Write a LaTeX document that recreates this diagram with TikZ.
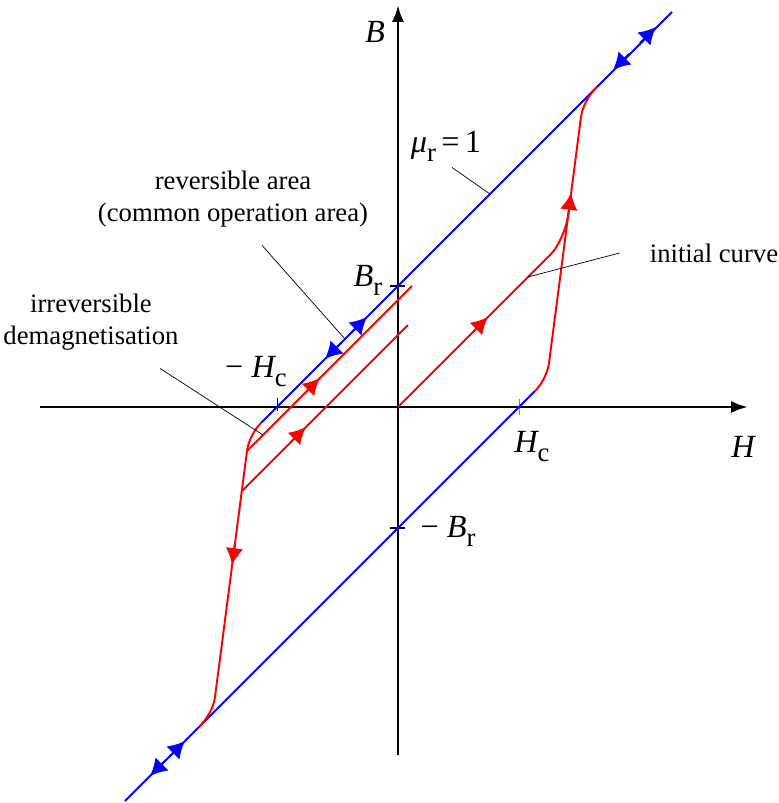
\documentclass[tikz,border=0pt]{standalone}
\usepackage{fontspec}
\setmainfont{Liberation Serif}
\usepackage{tikz}
\usetikzlibrary{
    arrows.meta,
    calc
}
\tikzstyle{axis} = [
    line width=2pt,
    -{Latex[length=0.42cm, width=0.3cm]}
]
\tikzstyle{recoil} = [
    blue,
    line width=1.4pt
]
\tikzstyle{hyst} = [
    red,
    line width=1.4pt
]
\tikzstyle{blueflow} = [
    blue,
    line width=1.4pt,
    -{Latex[length=0.42cm, width=0.46cm]}
]
\tikzstyle{redflow} = [
    red,
    line width=1.4pt,
    -{Latex[length=0.42cm, width=0.44cm]}
]
\tikzstyle{leader} = [
    black,
    line width=0.5pt
]
\tikzstyle{tick} = [
    black,
    line width=1.4pt
]
\tikzstyle{txt} = [
    font=\fontsize{19}{22.7}\selectfont,
    align=center,
    inner sep=0pt
]
\tikzstyle{sym} = [
    font=\fontsize{23}{27}\selectfont,
    inner sep=0pt
]
\newcommand{\sub}[1]{\raisebox{-0.28em}{\fontsize{19}{19}\selectfont\upshape #1}}

\begin{document}
\begin{tikzpicture}[x=0.025cm, y=0.025cm]
    \useasboundingbox (-398,-396) rectangle (380,407);

    % Axes and ticks
    \draw[axis] (-358,0) -- (350,0);
    \draw[axis] (0,-348) -- (0,402);
    \draw[tick] (-8,121) -- (7,121);
    \draw[tick] (-8,-121) -- (7,-121);
    \draw[gray, line width=0.7pt] (121,-8) -- (121,8);
    \draw[black, line width=0.7pt] (-121,-4) -- (-121,9);

    % mu_r = 1 lines
    \draw[recoil] (-137,-16) -- (274,395);
    \draw[recoil] (-273,-394) -- (137,16);

    % Hysteresis loop
    \draw[hyst] (199,320) .. controls (192,313) and (184.6,302) .. (183,290)
        -- (151,44) .. controls (149.7,34) and (144,23) .. (137,16);
    \draw[hyst] (-137,-16) .. controls (-144,-23) and (-149.7,-34) .. (-151,-44)
        -- (-183,-290) .. controls (-184.6,-302) and (-192,-313) .. (-199,-320);
    \draw[hyst] (0,0) -- (153,153) .. controls (161,161) and (168.6,180) .. (170.2,192);
    \draw[hyst] (-151,-44) -- (14,121);
    \draw[hyst] (-156,-84) -- (10,82);

    % Direction arrows
    \draw[blueflow] (231,353) -- (215,337);
    \draw[blueflow] (242,364) -- (258,380);
    \draw[blueflow] (-47,74) -- (-31,90);
    \draw[blueflow] (-57,64) -- (-73,48);
    \draw[blueflow] (-229,-350) -- (-213,-334);
    \draw[blueflow] (-232,-353) -- (-248,-369);
    \draw[redflow] (170.2,192) -- (173.1,214);
    \draw[redflow] (-162.9,-136) -- (-165.8,-158);
    \draw[redflow] (74,74) -- (90,90);
    \draw[redflow] (-94,13) -- (-78,29);
    \draw[redflow] (-108,-36) -- (-92,-20);

    % Labels
    \node[sym] (blabel) at (-23,375) {\itshape B};
    \node[sym] (hlabel) at (345,-40) {\itshape H};
    \node[sym] (br) at (-30,127) {\itshape B\sub{r}};
    \node[sym] (mbr) at (50,-124) {− \itshape B\sub{r}};
    \node[sym] (hc) at (134,-40) {\itshape H\sub{c}};
    \node[sym] (mhc) at (-142,35) {− \itshape H\sub{c}};
    \node[sym] (mu) at (48,261) {\itshape μ\sub{r}\,\upshape =\,1};
    \node[txt] (rev) at (-165,208) {reversible area\\(common operation area)};
    \node[txt] (irrev) at (-307,85) {irreversible\\demagnetisation};
    \node[txt] (init) at (316,154) {initial curve};

    % Leader lines
    \coordinate (muend) at (92,213);
    \coordinate (revend) at (-53,68);
    \coordinate (irrevend) at (-135,-28);
    \coordinate (initend) at (130,130);
    \draw[leader] ($(mu.south)+(6,-6)$) -- (muend);
    \draw[leader] ($(rev.south)+(29,-18)$) -- (revend);
    \draw[leader] ($(irrev.south)+(69,-18)$) -- (irrevend);
    \draw[leader] ($(init.west)+(-30,0)$) -- (initend);
\end{tikzpicture}
\end{document}
